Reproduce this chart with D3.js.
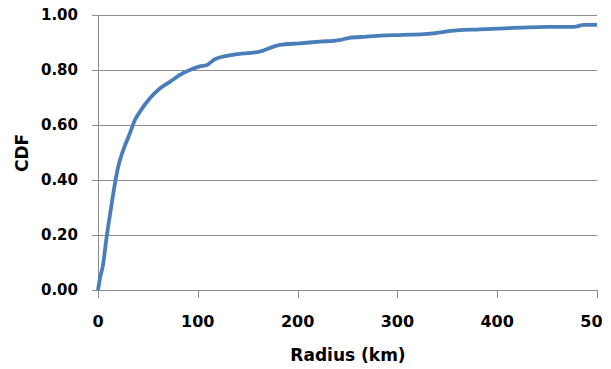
<!DOCTYPE html>
<html>
<head>
<meta charset="utf-8">
<script src="https://cdn.jsdelivr.net/npm/d3@7"></script>
<style>
  body { margin: 0; background: #fff; }
  text { font-family: "DejaVu Sans", sans-serif; font-weight: bold; fill: #000; }
</style>
</head>
<body>
<div id="chart"></div>
<script>
// radius in km
const radius = [0, 2, 5, 8.7, 12.7, 17, 20.3, 25.3, 32, 37, 42, 52, 62, 72, 82, 92, 102, 109, 117, 135, 162, 182, 202, 222, 242, 252, 269, 289, 302, 336, 353, 383, 423, 450, 477, 487, 500]
const cdf = [0, 0.043, 0.091, 0.194, 0.29, 0.388, 0.449, 0.509, 0.57, 0.618, 0.648, 0.697, 0.733, 0.757, 0.782, 0.80, 0.813, 0.818, 0.839, 0.855, 0.867, 0.891, 0.897, 0.903, 0.909, 0.917, 0.921, 0.926, 0.927, 0.933, 0.942, 0.948, 0.954, 0.957, 0.957, 0.964, 0.964]
const xTicks = [0, 100, 200, 300, 400, 500]
const yTicks = [0, 0.2, 0.4, 0.6, 0.8, 1.0]

const width = 611, height = 369

const svg = d3.select('#chart').append('svg')
  .attr('width', width)
  .attr('height', height)

const x = d3.scaleLinear().domain([0, 500]).range([98, 597])
const y = d3.scaleLinear().domain([0, 1]).range([290, 15])

const grey = '#8c8c8c'

// horizontal gridlines (they also act as y ticks)
svg.append('g').selectAll('line').data(yTicks).enter().append('line')
  .attr('x1', 92).attr('x2', x(500))
  .attr('y1', d => Math.round(y(d)) + 0.5).attr('y2', d => Math.round(y(d)) + 0.5)
  .attr('stroke', grey).attr('stroke-width', 1)

// y axis line
svg.append('line')
  .attr('x1', Math.round(x(0)) + 0.5).attr('x2', Math.round(x(0)) + 0.5)
  .attr('y1', y(1)).attr('y2', y(0))
  .attr('stroke', grey)

// x ticks
svg.append('g').selectAll('line').data(xTicks).enter().append('line')
  .attr('x1', d => Math.round(x(d)) + 0.5).attr('x2', d => Math.round(x(d)) + 0.5)
  .attr('y1', y(0)).attr('y2', y(0) + 8)
  .attr('stroke', grey)

// y tick labels
svg.append('g').selectAll('text').data(yTicks).enter().append('text')
  .attr('x', 78)
  .attr('y', d => y(d))
  .attr('dy', '0.36em')
  .attr('text-anchor', 'end')
  .style('font-size', '15px')
  .text(d => d3.format('.2f')(d))

// x tick labels, the last one is cut by the picture edge
svg.append('clipPath').attr('id', 'xclip')
  .append('rect').attr('x', 0).attr('y', 0).attr('width', 602).attr('height', height)

svg.append('g').attr('clip-path', 'url(#xclip)')
  .selectAll('text').data(xTicks).enter().append('text')
  .attr('x', d => x(d))
  .attr('y', 327)
  .attr('text-anchor', 'middle')
  .style('font-size', '16px')
  .text(d => d)

// axis titles
svg.append('text')
  .attr('x', 348).attr('y', 361)
  .attr('text-anchor', 'middle')
  .style('font-size', '17px')
  .text('Radius (km)')

svg.append('text')
  .attr('transform', 'translate(28,153) rotate(-90)')
  .attr('text-anchor', 'middle')
  .style('font-size', '17px')
  .text('CDF')

// the curve
const line = d3.line()
  .x((d, i) => x(radius[i]))
  .y(d => y(d))
  .curve(d3.curveMonotoneX)

svg.append('path')
  .datum(cdf)
  .attr('d', line)
  .attr('fill', 'none')
  .attr('stroke', '#4a7ebb')
  .attr('stroke-width', 3.8)
  .attr('stroke-linejoin', 'round')
</script>
</body>
</html>
